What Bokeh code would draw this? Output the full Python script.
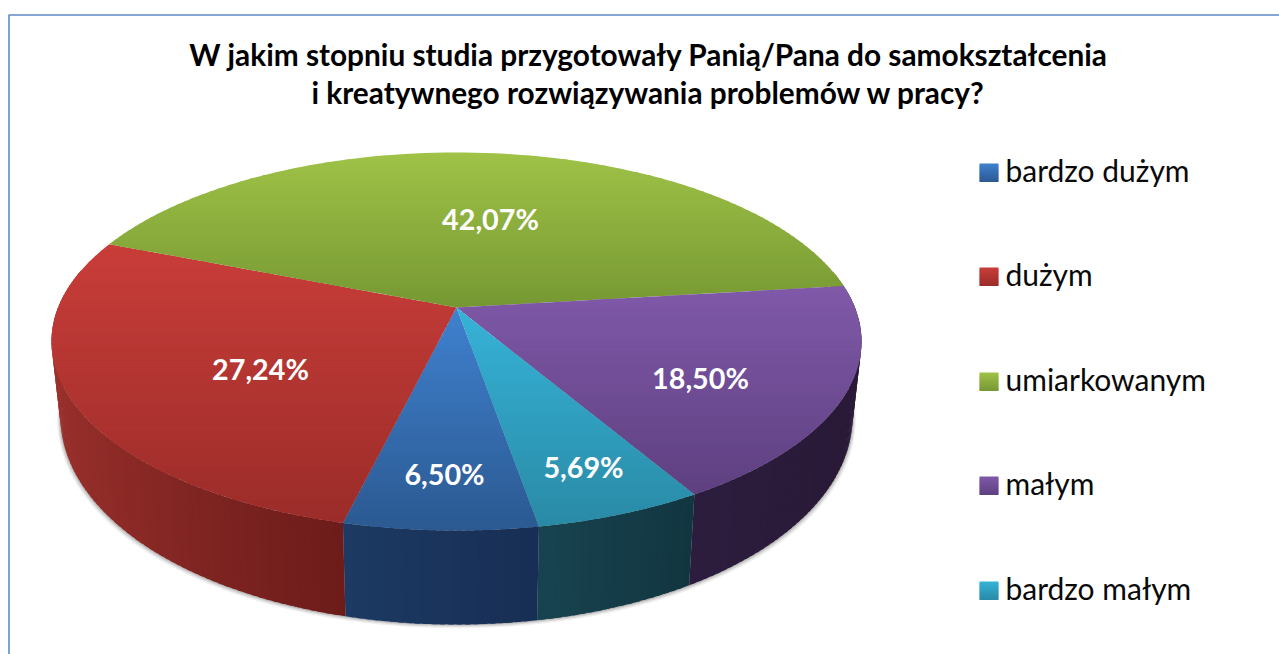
import numpy as np
from bokeh.plotting import figure
from bokeh.models import ColumnDataSource, Range1d
from bokeh.core.properties import value
from bokeh.embed import file_html
from bokeh.resources import INLINE

# ---- data
TITLE_LINES = ["W jakim stopniu studia przygotowały Panią/Pana do samokształcenia",
               "i kreatywnego rozwiązywania problemów w pracy?"]
categories = ["bardzo dużym", "dużym", "umiarkowanym", "małym", "bardzo małym"]
shares = [6.50, 27.24, 42.07, 18.50, 5.69]

# ---- styles
top_light = ["#3f81cf", "#c93d39", "#9fc247", "#8059a9", "#36b3d8"]
top_dark = ["#2b5991", "#9b2c29", "#769833", "#5e4080", "#298aa5"]
wall_left = ["#1c3a63", "#9a302c", "#6f8a30", "#2c1d3e", "#174350"]
wall_right = ["#182e54", "#6c1c1a", "#6f8a30", "#2a1a38", "#123640"]
label_xy = [(444, 473), (260, 368), (490, 218), (700, 377), (583, 466)]
legend_y = [163, 267, 372, 476, 581]
FONT = "Lato"
TITLE_PX, LEG_PX, LAB_PX = "29.8px", "30px", "28.7px"

# ---- projection of the pie disc
CX, CY, A, B, K = 456.0, 307.0, 398.4, 182.9, 0.18
START = 80.2


def hexrgb(h):
    return np.array([int(h[i:i + 2], 16) for i in (1, 3, 5)], float)


def mix(c1, c2, t):
    t = min(max(t, 0.0), 1.0)
    c = hexrgb(c1) * (1 - t) + hexrgb(c2) * t
    return "#%02x%02x%02x" % tuple(int(round(v)) for v in c)


def top_pt(deg):
    r = np.radians(deg)
    s, c = np.sin(r), np.cos(r)
    w = 1 - K * s
    return CX + A * c / w, CY + B * s / w


def bot_pt(deg):
    x, y = top_pt(deg)
    s = np.sin(np.radians(deg))
    return CX + (x - CX) * 0.978, y + 70 + 24 * s


def clip_band(poly, y0, y1):
    def clip(pts, inside, cut):
        out = []
        for i, p in enumerate(pts):
            q = pts[(i + 1) % len(pts)]
            a, b = inside(p), inside(q)
            if a:
                out.append(p)
            if a != b:
                t = (cut - p[1]) / (q[1] - p[1])
                out.append((p[0] + t * (q[0] - p[0]), cut))
        return out
    pts = clip(poly, lambda p: p[1] >= y0, y0)
    if pts:
        pts = clip(pts, lambda p: p[1] <= y1, y1)
    return pts


xs, ys, cols = [], [], []


def add(poly, col):
    xs.append([float(p[0]) for p in poly])
    ys.append([float(p[1]) for p in poly])
    cols.append(col)


def grad_rect_or_poly(poly, c1, c2, n=48):
    yy = [p[1] for p in poly]
    lo, hi = min(yy), max(yy)
    edges = np.linspace(lo, hi, n + 1)
    for i in range(n):
        # each band overlaps the next one, so no seam shows between them
        band = clip_band(poly, edges[i], min(edges[i + 1] + 1.0, hi))
        if len(band) >= 3:
            add(band, mix(c1, c2, (i + 0.5) / n))


# shadow polygons under the wall
sh_x, sh_y, sh_a = [], [], []
contour = np.arange(-10, 191, 2.0)
for off, al in ((3.5, 0.10), (2.2, 0.16), (1.0, 0.22)):
    pts = [bot_pt(d) for d in contour]
    sh_x.append([float(p[0] + (-off if p[0] < CX else off) * 0.9) for p in pts])
    sh_y.append([float(p[1] + off) for p in pts])
    sh_a.append(al)

bounds = START + np.cumsum([0] + [v * 3.6 for v in shares])

# walls
for i in range(len(shares)):
    a0, a1 = bounds[i], bounds[i + 1]
    steps = max(2, int((a1 - a0) / 1.0))
    e = np.linspace(a0, a1, steps + 1)
    xa, xb = top_pt(a0)[0], top_pt(a1)[0]
    for j in range(steps):
        m = (e[j] + e[j + 1]) / 2
        if np.sin(np.radians(m)) < -0.2:
            continue
        # overlap the following strip slightly
        e1 = min(e[j + 1] + 0.6, a1)
        poly = [top_pt(e[j]), top_pt(e1), bot_pt(e1), bot_pt(e[j])]
        xm = top_pt(m)[0]
        lo, hi = min(xa, xb), max(xa, xb)
        if i == 1:
            lo, hi = 52.0, max(xa, xb)
        t = max((xm - lo) / max(hi - lo, 1), 0.0)
        if i == 1:
            t = t ** 0.8
        add(poly, mix(wall_left[i], wall_right[i], t))

# top faces
for i in range(len(shares)):
    arc = np.linspace(bounds[i], bounds[i + 1], 90)
    poly = [(CX, CY)] + [top_pt(d) for d in arc]
    grad_rect_or_poly(poly, top_light[i], top_dark[i])

# legend swatches, one stack of bands per category
for i, y in enumerate(legend_y):
    x0, x1 = 979.0, 998.0
    grad_rect_or_poly([(x0, y), (x1, y), (x1, y + 18.5), (x0, y + 18.5)],
                      top_light[i], top_dark[i], n=10)

p = figure(width=1279, height=654, output_backend="svg", toolbar_location=None,
           x_range=Range1d(0, 1279), y_range=Range1d(654, 0), min_border=0)
p.axis.visible = False
p.grid.visible = False
p.outline_line_color = None
p.background_fill_color = "white"
p.border_fill_color = "white"

# chart frame
p.line(x=[8.5, 8.5, 1279], y=[654, 14.5, 14.5], line_color="#5f8bc6", line_width=1.6)

p.patches(xs=sh_x, ys=sh_y, fill_color="#555555", fill_alpha=sh_a, line_color=None)
p.patches("xs", "ys", source=ColumnDataSource(dict(xs=xs, ys=ys, c=cols)),
          fill_color="c", line_color=None)

p.text(x=[648, 648], y=[54, 92], text=TITLE_LINES, text_font=value(FONT),
       text_font_style="bold", text_font_size=TITLE_PX, text_color="#000000",
       text_align="center", text_baseline="alphabetic")
p.text(x=[1005] * 5, y=[y + 6 for y in legend_y], text=categories, text_font=value(FONT),
       text_font_size=LEG_PX, text_color="#0a0a0a", text_align="left",
       text_baseline="alphabetic")
labels = [f"{v:.2f}%".replace(".", ",") for v in shares]
p.text(x=[q[0] for q in label_xy], y=[q[1] for q in label_xy], text=labels,
       text_font=value(FONT), text_font_style="bold", text_font_size=LAB_PX,
       text_color="#ffffff", text_align="center", text_baseline="alphabetic")

open("out.html", "w").write(file_html(p, INLINE))
